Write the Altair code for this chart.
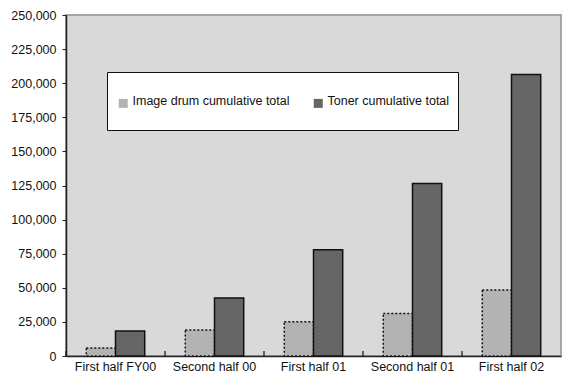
import altair as alt
import pandas as pd

periods = ["First half FY00", "Second half 00", "First half 01", "Second half 01", "First half 02"]
series = ["Image drum cumulative total", "Toner cumulative total"]
drum = [5800, 19100, 25200, 31100, 48300]
toner = [18300, 42600, 77900, 126400, 206400]
y_ticks = list(range(0, 250001, 25000))

rows = []
for p, d, t in zip(periods, drum, toner):
    rows.append({"period": p, "series": series[0], "value": d})
    rows.append({"period": p, "series": series[1], "value": t})
df = pd.DataFrame(rows)
df_periods = pd.DataFrame({"period": periods})

FONT = "Liberation Sans"
FS = 12.5
W, H = 495, 341

xscale = alt.Scale(domain=periods, paddingInner=0.41, paddingOuter=0.205)
yscale = alt.Scale(domain=[0, 250000], nice=False)

legend_opts = dict(
    title=None, orient="none", legendX=41, legendY=57,
    direction="horizontal", fillColor="white",
    strokeColor="#111111", padding=8,
    labelFont=FONT, labelFontSize=FS, labelColor="#111111", labelLimit=400,
    labelExpr="['', datum.label + ' ', '']",
    symbolType="M-1,2.78H1V4.78H-1Z", symbolSize=81, symbolOffset=2,
    symbolStrokeColor="#222222", symbolStrokeWidth=1,
    labelOffset=3, columnPadding=20,
)

yaxis = alt.Axis(title=None, values=y_ticks, format=",d", grid=False,
                 labelFont=FONT, labelFontSize=FS, labelColor="#111111",
                 tickSize=4, tickColor="#222222", labelPadding=6,
                 domainColor="#222222", domainWidth=1.5)

bars = alt.Chart(df).mark_bar(stroke="#111111", strokeWidth=1.5).encode(
    x=alt.X("period:N", sort=periods, scale=xscale,
            axis=alt.Axis(title=None, ticks=False, labelAngle=0, labelFont=FONT,
                          labelFontSize=FS, labelColor="#111111", labelPadding=4,
                          domainColor="#222222", domainWidth=1.5)),
    xOffset=alt.XOffset("series:N", sort=series, scale=alt.Scale(paddingInner=0, paddingOuter=0)),
    y=alt.Y("value:Q", scale=yscale, axis=yaxis),
    fill=alt.Fill("series:N", sort=series,
                  scale=alt.Scale(domain=series, range=["#b3b3b3", "#666666"]),
                  legend=alt.Legend(**legend_opts)),
    strokeDash=alt.StrokeDash("series:N", sort=series,
                              scale=alt.Scale(domain=series, range=[[2, 2], [1, 0]]),
                              legend=alt.Legend(**legend_opts)),
)

# category-boundary ticks pointing up from the x axis
ticks = alt.Chart(df_periods).mark_rule(color="#111111", strokeWidth=1.2).encode(
    x=alt.X("period:N", sort=periods, bandPosition=0,
            scale=alt.Scale(domain=periods, paddingInner=0, paddingOuter=0), axis=None),
    y=alt.value(H - 5),
    y2=alt.value(H),
)

chart = alt.layer(bars, ticks).resolve_scale(x="independent").properties(
    width=W, height=H,
    autosize=alt.AutoSizeParams(type="none"),
    padding={"left": 66, "top": 15, "right": 2, "bottom": 21},
    background="white",
).configure_view(fill="#d9d9d9", stroke="#a6a6a6", strokeWidth=2)

chart.save("out.html", embed_options={"renderer": "svg", "actions": False})
